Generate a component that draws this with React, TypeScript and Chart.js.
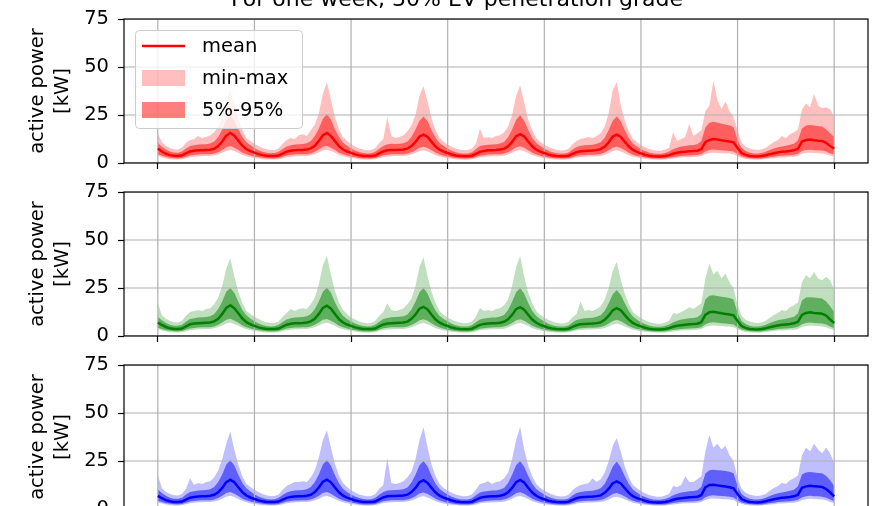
import React, { useEffect, useRef } from 'react';
import { Chart, registerables } from 'chart.js';

Chart.register(...registerables);

// ---------------- text ----------------
const TITLE = 'For one week, 30% EV penetration grade';
const Y_LABEL = ['active power', '[kW]'];
const LEGEND_LABELS = ['mean', 'min-max', '5%-95%'];
const Y_TICKS = [0, 25, 50, 75];
const DAY_TICKS = [0, 1, 2, 3, 4, 5, 6, 7];
const HOURS_PER_DAY = 24;

// ---------------- panel 1 (red), hourly values, kW ----------------
const RED_MEAN = [
  7.5, 6.0, 4.8, 4.1, 3.8, 3.7, 4.0, 5.0, 6.0, 6.4, 6.6, 6.7, 6.8, 6.9, 7.4, 8.8, 11.2, 14.2, 15.6, 14.2, 11.6, 9.0, 7.2, 6.2,
  5.4, 4.6, 4.1, 3.8, 3.6, 3.6, 3.9, 4.9, 5.9, 6.4, 6.6, 6.8, 6.8, 7.0, 7.6, 9.0, 11.5, 14.5, 15.6, 14.0, 11.4, 8.8, 7.0, 6.0,
  5.3, 4.5, 4.0, 3.7, 3.6, 3.6, 3.9, 5.0, 6.0, 6.6, 6.8, 6.8, 6.9, 7.0, 7.5, 8.8, 11.0, 13.8, 14.8, 13.6, 11.0, 8.6, 6.9, 5.9,
  5.2, 4.4, 3.9, 3.7, 3.5, 3.5, 3.8, 4.8, 5.8, 6.3, 6.6, 6.7, 6.8, 7.0, 7.4, 8.7, 11.0, 14.0, 15.0, 13.8, 11.2, 8.7, 6.9, 5.9,
  5.2, 4.4, 3.9, 3.6, 3.5, 3.5, 3.8, 4.7, 5.6, 6.1, 6.3, 6.4, 6.5, 6.7, 7.2, 8.5, 10.8, 13.8, 14.8, 13.6, 11.0, 8.6, 6.8, 5.8,
  5.0, 4.3, 3.8, 3.5, 3.4, 3.4, 3.6, 4.1, 4.8, 5.3, 5.7, 5.9, 6.1, 6.2, 6.4, 7.2, 10.8, 12.0, 12.5, 12.2, 11.8, 11.5, 11.2, 10.8,
  7.8, 5.2, 4.2, 3.7, 3.5, 3.4, 3.6, 4.0, 4.6, 5.1, 5.5, 5.8, 6.0, 6.3, 6.6, 7.4, 11.2, 12.0, 12.2, 11.8, 11.6, 11.5, 10.5, 8.8,
  7.5,
];
const RED_P95 = [
  10.5, 8.5, 7.0, 6.0, 5.5, 5.4, 6.0, 7.5, 8.8, 9.3, 9.6, 9.8, 9.8, 10.2, 11.2, 13.5, 17.5, 22.5, 24.5, 22.0, 17.5, 13.5, 10.8, 9.2,
  7.8, 6.6, 5.8, 5.3, 5.1, 5.2, 5.8, 7.3, 8.6, 9.2, 9.6, 9.8, 9.9, 10.3, 11.4, 14.0, 18.0, 23.0, 25.5, 22.5, 17.5, 13.5, 10.5, 9.0,
  7.6, 6.5, 5.7, 5.2, 5.0, 5.1, 5.8, 7.4, 8.8, 9.8, 10.0, 9.9, 10.0, 10.3, 11.2, 13.5, 17.5, 22.0, 24.2, 21.8, 17.0, 13.2, 10.4, 8.8,
  7.5, 6.4, 5.6, 5.1, 4.9, 5.0, 5.6, 7.2, 8.8, 9.2, 9.5, 9.7, 9.8, 10.2, 11.0, 13.4, 17.5, 22.5, 25.0, 22.0, 17.2, 13.2, 10.4, 8.8,
  7.5, 6.4, 5.6, 5.1, 4.9, 5.0, 5.5, 7.0, 8.3, 8.9, 9.2, 9.4, 9.5, 10.0, 10.8, 13.2, 17.2, 22.0, 24.3, 21.6, 17.0, 13.0, 10.2, 8.6,
  7.2, 6.2, 5.5, 5.0, 4.8, 4.8, 5.2, 6.0, 7.2, 8.0, 8.6, 8.9, 9.2, 9.4, 9.8, 11.5, 18.5, 21.0, 21.5, 21.0, 20.5, 20.0, 19.5, 18.8,
  12.0, 7.8, 6.2, 5.4, 5.0, 4.9, 5.2, 5.9, 6.8, 7.6, 8.2, 8.6, 9.0, 9.5, 10.0, 11.8, 18.0, 19.5, 19.8, 19.5, 19.2, 19.0, 17.5, 15.5,
  13.5,
];
const RED_P5 = [
  4.5, 3.8, 3.1, 2.7, 2.5, 2.4, 2.6, 3.2, 3.9, 4.2, 4.4, 4.5, 4.5, 4.6, 4.9, 5.6, 6.8, 8.2, 8.8, 8.0, 6.8, 5.4, 4.5, 3.9,
  3.4, 3.0, 2.7, 2.5, 2.4, 2.4, 2.6, 3.2, 3.9, 4.2, 4.4, 4.5, 4.5, 4.6, 5.0, 5.8, 7.0, 8.4, 8.9, 8.0, 6.8, 5.4, 4.5, 3.9,
  3.4, 3.0, 2.6, 2.4, 2.3, 2.4, 2.6, 3.3, 4.0, 4.3, 4.5, 4.5, 4.6, 4.6, 4.9, 5.6, 6.7, 8.0, 8.5, 7.8, 6.6, 5.3, 4.4, 3.8,
  3.3, 2.9, 2.6, 2.4, 2.3, 2.3, 2.5, 3.1, 3.8, 4.1, 4.4, 4.4, 4.5, 4.6, 4.9, 5.6, 6.8, 8.2, 8.7, 7.9, 6.7, 5.3, 4.4, 3.8,
  3.3, 2.9, 2.6, 2.4, 2.3, 2.3, 2.5, 3.0, 3.6, 4.0, 4.2, 4.3, 4.3, 4.4, 4.7, 5.5, 6.6, 8.0, 8.5, 7.8, 6.6, 5.3, 4.3, 3.7,
  3.3, 2.9, 2.6, 2.4, 2.3, 2.3, 2.4, 2.7, 3.1, 3.4, 3.7, 3.8, 3.9, 4.0, 4.2, 4.6, 6.0, 6.8, 7.0, 6.8, 6.6, 6.5, 6.3, 6.0,
  4.6, 3.4, 2.8, 2.5, 2.3, 2.3, 2.4, 2.7, 3.0, 3.3, 3.6, 3.8, 3.9, 4.1, 4.3, 4.8, 6.2, 6.8, 6.9, 6.7, 6.6, 6.5, 6.0, 5.0,
  4.5,
];
const RED_MIN = [
  3.6, 3.0, 2.4, 2.0, 1.8, 1.8, 2.0, 2.5, 3.0, 3.3, 3.5, 3.5, 3.6, 3.6, 3.9, 4.4, 5.3, 6.3, 6.8, 6.2, 5.2, 4.2, 3.5, 3.0,
  2.6, 2.3, 2.0, 1.8, 1.8, 1.8, 2.0, 2.5, 3.0, 3.3, 3.5, 3.5, 3.6, 3.7, 4.0, 4.6, 5.5, 6.5, 6.9, 6.2, 5.3, 4.2, 3.5, 3.0,
  2.6, 2.3, 2.0, 1.8, 1.7, 1.8, 2.0, 2.6, 3.1, 3.4, 3.5, 3.6, 3.6, 3.6, 3.9, 4.4, 5.2, 6.2, 6.6, 6.0, 5.1, 4.1, 3.4, 2.9,
  2.5, 2.2, 2.0, 1.8, 1.7, 1.7, 1.9, 2.4, 3.0, 3.2, 3.4, 3.5, 3.5, 3.6, 3.8, 4.4, 5.3, 6.4, 6.8, 6.1, 5.2, 4.1, 3.4, 2.9,
  2.5, 2.2, 2.0, 1.8, 1.7, 1.7, 1.9, 2.3, 2.8, 3.1, 3.3, 3.4, 3.4, 3.5, 3.7, 4.3, 5.1, 6.2, 6.6, 6.0, 5.1, 4.1, 3.3, 2.8,
  2.5, 2.2, 2.0, 1.8, 1.7, 1.7, 1.8, 2.1, 2.4, 2.6, 2.9, 3.0, 3.0, 3.1, 3.3, 3.6, 4.6, 5.2, 5.4, 5.2, 5.1, 5.0, 4.9, 4.6,
  3.5, 2.6, 2.1, 1.9, 1.8, 1.7, 1.8, 2.1, 2.3, 2.5, 2.8, 2.9, 3.0, 3.2, 3.3, 3.7, 4.8, 5.2, 5.3, 5.2, 5.1, 5.0, 4.6, 3.8,
  3.4,
];
const RED_MAX = [
  15.5, 11.0, 9.0, 7.8, 7.2, 7.0, 8.0, 10.5, 12.0, 12.5, 14.0, 13.0, 13.5, 14.5, 16.0, 19.0, 24.0, 33.0, 38.0, 31.0, 23.0, 17.0, 13.0, 11.5,
  10.0, 8.8, 7.8, 7.2, 6.8, 6.8, 7.6, 10.0, 12.0, 13.0, 12.5, 14.5, 15.0, 14.0, 17.0, 20.0, 26.0, 36.0, 42.0, 33.0, 24.0, 17.5, 13.5, 11.5,
  9.8, 8.6, 7.6, 7.0, 6.6, 6.8, 7.8, 10.5, 12.5, 24.0, 14.0, 13.0, 13.5, 14.5, 16.5, 19.5, 25.0, 35.0, 40.0, 32.0, 23.0, 17.0, 13.0, 11.0,
  9.6, 8.4, 7.5, 7.0, 6.6, 6.8, 7.6, 10.0, 18.0, 13.0, 13.5, 13.0, 14.0, 14.5, 16.0, 19.0, 25.0, 35.0, 40.5, 31.5, 22.5, 17.0, 13.0, 11.0,
  9.6, 8.4, 7.5, 6.9, 6.5, 6.7, 7.4, 9.8, 11.5, 12.5, 13.0, 13.5, 13.0, 14.0, 15.5, 19.0, 26.0, 38.0, 42.0, 30.0, 22.0, 16.5, 12.5, 10.8,
  9.4, 8.2, 7.3, 6.8, 6.4, 6.4, 7.0, 8.0, 16.0, 11.5, 12.5, 13.5, 20.5, 14.0, 15.5, 17.0, 27.0, 30.0, 43.0, 33.0, 28.0, 32.0, 27.0, 24.0,
  17.0, 10.5, 8.5, 7.5, 7.0, 6.8, 7.2, 8.0, 9.5, 11.0, 12.0, 14.0, 13.0, 15.0, 16.0, 17.5, 28.0, 31.0, 29.0, 36.0, 30.0, 28.5, 29.0, 28.0,
  24.0,
];

// ---------------- panel 2 (green) ----------------
const GREEN_MEAN = [
  7.0, 5.8, 4.7, 4.0, 3.7, 3.6, 3.9, 5.0, 6.1, 6.5, 6.7, 6.8, 6.9, 7.0, 7.6, 9.0, 11.5, 14.6, 16.0, 14.5, 11.8, 9.1, 7.2, 6.1,
  5.3, 4.5, 4.0, 3.7, 3.6, 3.6, 3.9, 4.9, 5.9, 6.4, 6.6, 6.7, 6.8, 7.0, 7.6, 9.0, 11.5, 14.6, 15.8, 14.2, 11.5, 8.8, 7.0, 6.0,
  5.3, 4.5, 4.0, 3.7, 3.6, 3.6, 3.9, 5.0, 6.0, 6.5, 6.7, 6.8, 6.9, 7.0, 7.5, 8.9, 11.2, 14.2, 15.2, 13.8, 11.1, 8.6, 6.9, 5.9,
  5.2, 4.4, 3.9, 3.6, 3.5, 3.5, 3.8, 4.8, 5.8, 6.3, 6.5, 6.6, 6.7, 6.9, 7.4, 8.7, 11.0, 14.0, 15.0, 13.7, 11.1, 8.6, 6.9, 5.8,
  5.1, 4.3, 3.9, 3.6, 3.5, 3.5, 3.8, 4.7, 5.6, 6.1, 6.3, 6.4, 6.5, 6.7, 7.1, 8.4, 10.6, 13.4, 14.5, 13.4, 10.9, 8.5, 6.8, 5.8,
  5.0, 4.3, 3.8, 3.5, 3.4, 3.4, 3.6, 4.1, 4.8, 5.3, 5.6, 5.9, 6.1, 6.2, 6.4, 7.2, 11.0, 12.4, 12.6, 12.2, 11.8, 11.5, 11.2, 10.8,
  7.8, 5.2, 4.2, 3.7, 3.5, 3.4, 3.6, 4.0, 4.6, 5.1, 5.5, 5.8, 6.0, 6.2, 6.6, 7.4, 11.0, 12.0, 12.3, 12.0, 11.8, 11.6, 10.6, 8.6,
  6.8,
];
const GREEN_P95 = [
  10.0, 8.2, 6.8, 5.9, 5.4, 5.3, 5.9, 7.5, 8.8, 9.3, 9.6, 9.8, 9.9, 10.3, 11.4, 14.0, 18.0, 23.0, 25.0, 22.5, 17.8, 13.6, 10.8, 9.1,
  7.7, 6.5, 5.7, 5.2, 5.0, 5.1, 5.8, 7.3, 8.6, 9.2, 9.6, 9.8, 9.9, 10.3, 11.4, 14.0, 18.0, 23.0, 25.2, 22.5, 17.6, 13.4, 10.5, 8.9,
  7.6, 6.5, 5.7, 5.2, 5.0, 5.1, 5.8, 7.4, 8.8, 9.4, 9.8, 9.9, 10.0, 10.3, 11.2, 13.8, 17.8, 22.8, 25.0, 22.2, 17.2, 13.2, 10.4, 8.8,
  7.5, 6.4, 5.6, 5.1, 4.9, 5.0, 5.6, 7.2, 8.6, 9.1, 9.4, 9.6, 9.7, 10.1, 11.0, 13.6, 17.8, 22.8, 25.0, 22.0, 17.2, 13.2, 10.4, 8.8,
  7.5, 6.4, 5.6, 5.1, 4.9, 5.0, 5.5, 7.0, 8.3, 8.9, 9.2, 9.4, 9.5, 10.0, 10.8, 13.2, 17.0, 21.8, 24.0, 21.4, 17.0, 13.0, 10.2, 8.6,
  7.2, 6.2, 5.5, 5.0, 4.8, 4.8, 5.2, 6.0, 7.2, 8.0, 8.6, 8.9, 9.2, 9.4, 9.8, 11.5, 19.0, 21.0, 21.2, 20.8, 20.5, 20.2, 19.8, 19.0,
  12.0, 7.8, 6.2, 5.4, 5.0, 4.9, 5.2, 5.9, 6.8, 7.6, 8.2, 8.6, 9.0, 9.5, 10.0, 11.8, 18.5, 20.0, 20.2, 20.0, 19.8, 19.5, 18.0, 15.5,
  12.5,
];
const GREEN_P5 = [
  4.3, 3.7, 3.0, 2.7, 2.5, 2.4, 2.6, 3.2, 3.9, 4.2, 4.4, 4.5, 4.5, 4.6, 5.0, 5.8, 7.0, 8.5, 9.0, 8.1, 6.9, 5.5, 4.5, 3.9,
  3.4, 3.0, 2.7, 2.5, 2.4, 2.4, 2.6, 3.2, 3.9, 4.2, 4.4, 4.4, 4.5, 4.6, 5.0, 5.8, 7.0, 8.4, 8.9, 8.0, 6.8, 5.4, 4.5, 3.9,
  3.4, 3.0, 2.6, 2.4, 2.3, 2.4, 2.6, 3.3, 4.0, 4.3, 4.5, 4.5, 4.6, 4.6, 4.9, 5.7, 6.8, 8.2, 8.7, 7.9, 6.7, 5.3, 4.4, 3.8,
  3.3, 2.9, 2.6, 2.4, 2.3, 2.3, 2.5, 3.1, 3.8, 4.1, 4.3, 4.4, 4.5, 4.6, 4.9, 5.6, 6.8, 8.2, 8.7, 7.9, 6.7, 5.3, 4.4, 3.8,
  3.3, 2.9, 2.6, 2.4, 2.3, 2.3, 2.5, 3.0, 3.6, 4.0, 4.2, 4.3, 4.3, 4.4, 4.7, 5.4, 6.5, 7.8, 8.4, 7.7, 6.5, 5.2, 4.3, 3.7,
  3.3, 2.9, 2.6, 2.4, 2.3, 2.3, 2.4, 2.7, 3.1, 3.4, 3.7, 3.8, 3.9, 4.0, 4.2, 4.6, 6.1, 6.9, 7.1, 6.9, 6.7, 6.5, 6.3, 6.0,
  4.6, 3.4, 2.8, 2.5, 2.3, 2.3, 2.4, 2.7, 3.0, 3.3, 3.6, 3.8, 3.9, 4.1, 4.3, 4.8, 6.1, 6.8, 7.0, 6.8, 6.7, 6.5, 6.0, 4.9,
  4.1,
];
const GREEN_MIN = [
  3.5, 2.9, 2.4, 2.0, 1.8, 1.8, 2.0, 2.5, 3.0, 3.3, 3.5, 3.5, 3.6, 3.6, 4.0, 4.5, 5.5, 6.5, 7.0, 6.3, 5.3, 4.3, 3.5, 3.0,
  2.6, 2.3, 2.0, 1.8, 1.8, 1.8, 2.0, 2.5, 3.0, 3.3, 3.5, 3.5, 3.6, 3.7, 4.0, 4.6, 5.5, 6.5, 6.9, 6.2, 5.3, 4.2, 3.5, 3.0,
  2.6, 2.3, 2.0, 1.8, 1.7, 1.8, 2.0, 2.6, 3.1, 3.4, 3.5, 3.6, 3.6, 3.6, 3.9, 4.5, 5.3, 6.4, 6.8, 6.1, 5.2, 4.1, 3.4, 2.9,
  2.5, 2.2, 2.0, 1.8, 1.7, 1.7, 1.9, 2.4, 3.0, 3.2, 3.4, 3.5, 3.5, 3.6, 3.8, 4.4, 5.3, 6.4, 6.8, 6.1, 5.2, 4.1, 3.4, 2.9,
  2.5, 2.2, 2.0, 1.8, 1.7, 1.7, 1.9, 2.3, 2.8, 3.1, 3.3, 3.4, 3.4, 3.5, 3.7, 4.2, 5.0, 6.0, 6.5, 5.9, 5.0, 4.0, 3.3, 2.8,
  2.5, 2.2, 2.0, 1.8, 1.7, 1.7, 1.8, 2.1, 2.4, 2.6, 2.9, 3.0, 3.0, 3.1, 3.3, 3.6, 4.7, 5.3, 5.5, 5.3, 5.2, 5.0, 4.9, 4.6,
  3.5, 2.6, 2.1, 1.9, 1.8, 1.7, 1.8, 2.1, 2.3, 2.5, 2.8, 2.9, 3.0, 3.2, 3.3, 3.7, 4.7, 5.2, 5.4, 5.3, 5.2, 5.0, 4.6, 3.7,
  3.1,
];
const GREEN_MAX = [
  17.0, 11.0, 9.0, 7.8, 7.2, 7.0, 8.0, 10.5, 12.5, 13.0, 13.5, 13.0, 14.0, 14.5, 16.5, 20.0, 26.0, 35.0, 40.5, 31.0, 23.0, 17.0, 13.0, 11.5,
  10.0, 8.8, 7.8, 7.2, 6.8, 6.8, 7.6, 10.0, 12.0, 14.0, 13.0, 14.0, 14.5, 14.0, 16.5, 20.0, 27.0, 37.0, 41.7, 32.0, 23.5, 17.5, 13.5, 11.5,
  9.8, 8.6, 7.6, 7.0, 6.6, 6.8, 7.8, 10.5, 12.5, 17.0, 13.5, 13.0, 13.5, 14.5, 16.5, 19.5, 26.0, 36.0, 41.0, 31.0, 23.0, 17.0, 13.0, 11.0,
  9.6, 8.4, 7.5, 7.0, 6.6, 6.8, 7.6, 10.0, 14.6, 13.0, 13.5, 13.0, 14.0, 14.5, 16.0, 19.0, 26.0, 36.0, 41.7, 31.0, 22.5, 17.0, 13.0, 11.0,
  9.6, 8.4, 7.5, 6.9, 6.5, 6.7, 7.4, 9.8, 11.5, 18.0, 13.0, 13.5, 13.0, 14.0, 15.5, 19.0, 25.0, 34.0, 38.7, 29.0, 22.0, 16.5, 12.5, 10.8,
  9.4, 8.2, 7.3, 6.8, 6.4, 6.4, 7.0, 8.0, 12.0, 11.5, 12.5, 13.5, 15.0, 14.0, 15.5, 17.0, 30.0, 37.8, 32.0, 34.0, 30.0, 32.6, 28.0, 25.0,
  16.0, 10.5, 8.5, 7.5, 7.0, 6.8, 7.2, 8.0, 9.5, 11.0, 12.0, 13.5, 13.0, 15.0, 16.0, 17.5, 28.0, 31.8, 30.0, 33.5, 30.0, 29.0, 30.9, 29.0,
  24.0,
];

// ---------------- panel 3 (blue) ----------------
const BLUE_MEAN = [
  6.8, 5.6, 4.6, 4.0, 3.7, 3.6, 3.9, 4.9, 5.9, 6.3, 6.5, 6.6, 6.7, 6.9, 7.4, 8.7, 11.0, 14.0, 15.2, 13.9, 11.3, 8.8, 7.0, 6.0,
  5.2, 4.5, 4.0, 3.7, 3.6, 3.6, 3.9, 4.9, 5.8, 6.3, 6.5, 6.6, 6.7, 6.9, 7.4, 8.8, 11.2, 14.2, 15.3, 13.9, 11.2, 8.7, 6.9, 5.9,
  5.2, 4.4, 4.0, 3.7, 3.6, 3.6, 3.9, 5.0, 6.0, 6.6, 6.8, 6.8, 6.9, 7.0, 7.5, 8.8, 11.0, 13.9, 15.0, 13.6, 11.0, 8.6, 6.9, 5.9,
  5.2, 4.4, 3.9, 3.6, 3.5, 3.5, 3.8, 4.8, 5.8, 6.3, 6.5, 6.6, 6.7, 6.9, 7.4, 8.7, 11.0, 14.0, 15.1, 13.8, 11.1, 8.6, 6.9, 5.8,
  5.1, 4.3, 3.9, 3.6, 3.5, 3.5, 3.8, 4.7, 5.6, 6.1, 6.3, 6.4, 6.5, 6.7, 7.1, 8.4, 10.6, 13.4, 14.4, 13.3, 10.8, 8.4, 6.7, 5.7,
  5.0, 4.3, 3.8, 3.5, 3.4, 3.4, 3.6, 4.1, 4.8, 5.3, 5.6, 5.9, 6.1, 6.2, 6.4, 7.2, 11.2, 12.5, 12.6, 12.3, 12.0, 11.7, 11.3, 10.8,
  7.8, 5.2, 4.2, 3.7, 3.5, 3.4, 3.6, 4.0, 4.6, 5.1, 5.5, 5.8, 6.0, 6.2, 6.6, 7.4, 11.0, 11.8, 12.1, 11.9, 11.7, 11.5, 10.4, 8.6,
  6.6,
];
const BLUE_P95 = [
  10.2, 8.3, 6.9, 5.9, 5.4, 5.3, 5.9, 7.5, 8.8, 9.3, 9.6, 9.8, 9.9, 10.3, 11.4, 14.0, 18.0, 23.2, 25.5, 22.6, 17.8, 13.6, 10.8, 9.1,
  7.7, 6.5, 5.7, 5.2, 5.0, 5.1, 5.8, 7.3, 8.6, 9.2, 9.6, 9.8, 9.9, 10.3, 11.4, 14.0, 18.0, 23.2, 25.5, 22.5, 17.6, 13.4, 10.5, 8.9,
  7.6, 6.5, 5.7, 5.2, 5.0, 5.1, 5.8, 7.4, 8.8, 9.6, 9.8, 9.9, 10.0, 10.3, 11.2, 13.8, 17.8, 22.8, 25.0, 22.2, 17.2, 13.2, 10.4, 8.8,
  7.5, 6.4, 5.6, 5.1, 4.9, 5.0, 5.6, 7.2, 8.6, 9.1, 9.4, 9.6, 9.7, 10.1, 11.0, 13.6, 17.8, 22.8, 25.0, 22.0, 17.2, 13.2, 10.4, 8.8,
  7.5, 6.4, 5.6, 5.1, 4.9, 5.0, 5.5, 7.0, 8.3, 8.9, 9.2, 9.4, 9.5, 10.0, 10.8, 13.2, 17.2, 22.2, 24.7, 21.6, 17.0, 13.0, 10.2, 8.6,
  7.2, 6.2, 5.5, 5.0, 4.8, 4.8, 5.2, 6.0, 7.2, 8.0, 8.6, 8.9, 9.2, 9.4, 9.8, 11.5, 18.5, 20.2, 20.5, 20.2, 20.0, 19.8, 19.4, 18.6,
  12.0, 7.8, 6.2, 5.4, 5.0, 4.9, 5.2, 5.9, 6.8, 7.6, 8.2, 8.6, 9.0, 9.5, 10.0, 11.8, 18.0, 19.0, 19.3, 19.0, 18.8, 18.6, 17.2, 15.0,
  12.0,
];
const BLUE_P5 = [
  4.2, 3.6, 3.0, 2.7, 2.5, 2.4, 2.6, 3.2, 3.9, 4.2, 4.4, 4.5, 4.5, 4.6, 4.9, 5.7, 6.9, 8.3, 8.9, 8.0, 6.8, 5.4, 4.5, 3.9,
  3.4, 3.0, 2.7, 2.5, 2.4, 2.4, 2.6, 3.2, 3.9, 4.2, 4.4, 4.4, 4.5, 4.6, 4.9, 5.7, 6.9, 8.3, 8.8, 7.9, 6.7, 5.4, 4.5, 3.9,
  3.4, 3.0, 2.6, 2.4, 2.3, 2.4, 2.6, 3.3, 4.0, 4.3, 4.5, 4.5, 4.6, 4.6, 4.9, 5.6, 6.7, 8.1, 8.6, 7.8, 6.6, 5.3, 4.4, 3.8,
  3.3, 2.9, 2.6, 2.4, 2.3, 2.3, 2.5, 3.1, 3.8, 4.1, 4.3, 4.4, 4.5, 4.6, 4.9, 5.6, 6.8, 8.2, 8.7, 7.9, 6.7, 5.3, 4.4, 3.8,
  3.3, 2.9, 2.6, 2.4, 2.3, 2.3, 2.5, 3.0, 3.6, 4.0, 4.2, 4.3, 4.3, 4.4, 4.7, 5.4, 6.5, 7.8, 8.3, 7.6, 6.5, 5.2, 4.3, 3.7,
  3.3, 2.9, 2.6, 2.4, 2.3, 2.3, 2.4, 2.7, 3.1, 3.4, 3.7, 3.8, 3.9, 4.0, 4.2, 4.6, 6.1, 6.9, 7.1, 6.9, 6.8, 6.6, 6.4, 6.0,
  4.6, 3.4, 2.8, 2.5, 2.3, 2.3, 2.4, 2.7, 3.0, 3.3, 3.6, 3.8, 3.9, 4.1, 4.3, 4.8, 6.0, 6.7, 6.9, 6.7, 6.6, 6.4, 5.9, 4.9,
  4.0,
];
const BLUE_MIN = [
  3.4, 2.9, 2.4, 2.0, 1.8, 1.8, 2.0, 2.5, 3.0, 3.3, 3.5, 3.5, 3.6, 3.6, 3.9, 4.4, 5.4, 6.4, 6.9, 6.2, 5.2, 4.2, 3.5, 3.0,
  2.6, 2.3, 2.0, 1.8, 1.8, 1.8, 2.0, 2.5, 3.0, 3.3, 3.5, 3.5, 3.6, 3.7, 3.9, 4.5, 5.4, 6.4, 6.8, 6.1, 5.2, 4.2, 3.5, 3.0,
  2.6, 2.3, 2.0, 1.8, 1.7, 1.8, 2.0, 2.6, 3.1, 3.4, 3.5, 3.6, 3.6, 3.6, 3.9, 4.4, 5.2, 6.3, 6.7, 6.0, 5.1, 4.1, 3.4, 2.9,
  2.5, 2.2, 2.0, 1.8, 1.7, 1.7, 1.9, 2.4, 3.0, 3.2, 3.4, 3.5, 3.5, 3.6, 3.8, 4.4, 5.3, 6.4, 6.8, 6.1, 5.2, 4.1, 3.4, 2.9,
  2.5, 2.2, 2.0, 1.8, 1.7, 1.7, 1.9, 2.3, 2.8, 3.1, 3.3, 3.4, 3.4, 3.5, 3.7, 4.2, 5.0, 6.0, 6.4, 5.8, 5.0, 4.0, 3.3, 2.8,
  2.5, 2.2, 2.0, 1.8, 1.7, 1.7, 1.8, 2.1, 2.4, 2.6, 2.9, 3.0, 3.0, 3.1, 3.3, 3.6, 4.7, 5.3, 5.5, 5.3, 5.2, 5.1, 4.9, 4.6,
  3.5, 2.6, 2.1, 1.9, 1.8, 1.7, 1.8, 2.1, 2.3, 2.5, 2.8, 2.9, 3.0, 3.2, 3.3, 3.7, 4.6, 5.1, 5.3, 5.2, 5.1, 4.9, 4.5, 3.7,
  3.0,
];
const BLUE_MAX = [
  17.7, 11.0, 9.0, 7.8, 7.2, 7.0, 8.0, 10.5, 16.0, 12.5, 13.5, 13.0, 14.0, 14.5, 16.5, 20.0, 26.0, 34.0, 40.3, 31.0, 23.0, 17.0, 13.0, 11.5,
  10.0, 8.8, 7.8, 7.2, 6.8, 6.8, 7.6, 10.0, 12.0, 13.0, 14.0, 14.0, 14.5, 14.0, 16.5, 20.0, 27.0, 36.0, 41.0, 32.0, 23.5, 17.5, 13.5, 11.5,
  9.8, 8.6, 7.6, 7.0, 6.6, 6.8, 7.8, 10.5, 12.5, 26.6, 13.5, 13.0, 13.5, 14.5, 16.5, 19.5, 26.0, 36.0, 42.6, 32.0, 23.0, 17.0, 13.0, 11.0,
  9.6, 8.4, 7.5, 7.0, 6.6, 6.8, 7.6, 10.0, 13.0, 13.5, 14.5, 13.0, 14.0, 14.5, 16.0, 19.0, 26.0, 36.0, 42.9, 31.0, 22.5, 17.0, 13.0, 11.0,
  9.6, 8.4, 7.5, 6.9, 6.5, 6.7, 7.4, 9.8, 11.5, 12.5, 13.0, 13.5, 16.0, 14.0, 15.5, 19.0, 25.0, 33.0, 37.0, 30.0, 22.0, 16.5, 12.5, 10.8,
  9.4, 8.2, 7.3, 6.8, 6.4, 6.4, 7.0, 8.0, 12.0, 11.5, 12.5, 17.0, 14.0, 14.0, 15.5, 17.0, 30.0, 38.5, 32.0, 34.0, 31.0, 33.0, 28.0, 25.0,
  16.0, 10.5, 8.5, 7.5, 7.0, 6.8, 7.2, 8.0, 9.5, 11.0, 12.0, 13.5, 13.0, 15.0, 16.0, 17.5, 28.0, 32.0, 30.0, 34.0, 31.0, 29.0, 32.0, 29.0,
  24.0,
];

// ---------------- layout / style ----------------
const W = 872;
const H = 506;
const FONT = 'DejaVu Sans';
const TICK_SIZE = 19.5;
const PLOT_LEFT = 124;
const PLOT_RIGHT = 868;
const PLOT_H = 144;
const GRID_COLOR = '#b0b0b0';

type Spec = {
  key: string;
  plotTop: number;
  canvasTop: number;
  canvasH: number;
  rgb: number[];
  mean: number[];
  p5: number[];
  p95: number[];
  min: number[];
  max: number[];
  legend: boolean;
  title: boolean;
};

const PANELS: Spec[] = [
  { key: 'red', plotTop: 19, canvasTop: -12, canvasH: 199, rgb: [255, 0, 0], mean: RED_MEAN, p5: RED_P5, p95: RED_P95, min: RED_MIN, max: RED_MAX, legend: true, title: true },
  { key: 'green', plotTop: 192, canvasTop: 168, canvasH: 192, rgb: [0, 128, 0], mean: GREEN_MEAN, p5: GREEN_P5, p95: GREEN_P95, min: GREEN_MIN, max: GREEN_MAX, legend: false, title: false },
  { key: 'blue', plotTop: 365, canvasTop: 341, canvasH: 192, rgb: [0, 0, 255], mean: BLUE_MEAN, p5: BLUE_P5, p95: BLUE_P95, min: BLUE_MIN, max: BLUE_MAX, legend: false, title: false },
];

const rgba = (rgb: number[], a: number) => `rgba(${rgb[0]},${rgb[1]},${rgb[2]},${a})`;

const decorPlugin = {
  id: 'decor',
  beforeDatasetsDraw(chart: any) {
    // grid above the filled bands, below the mean line (matplotlib z-order)
    const { ctx, chartArea: ca, scales } = chart;
    ctx.save();
    ctx.beginPath();
    ctx.rect(ca.left, ca.top, ca.right - ca.left, ca.bottom - ca.top);
    ctx.clip();
    ctx.strokeStyle = GRID_COLOR;
    ctx.lineWidth = 1.2;
    ctx.beginPath();
    DAY_TICKS.forEach((v) => {
      const px = scales.x.getPixelForValue(v);
      ctx.moveTo(px, ca.top);
      ctx.lineTo(px, ca.bottom);
    });
    Y_TICKS.forEach((v) => {
      const py = scales.y.getPixelForValue(v);
      ctx.moveTo(ca.left, py);
      ctx.lineTo(ca.right, py);
    });
    ctx.stroke();
    ctx.restore();
  },
  afterDatasetsDraw(chart: any, _args: any, opts: any) {
    const { ctx, chartArea: ca } = chart;
    ctx.save();
    // spines
    ctx.strokeStyle = '#000';
    ctx.lineWidth = 1.2;
    ctx.strokeRect(ca.left, ca.top, ca.right - ca.left, ca.bottom - ca.top);

    if (opts.legend) {
      const ds = chart.data.datasets;
      const find = (l: string) => ds.find((d: any) => d.label === l);
      const x0 = ca.left + 11;
      const y0 = ca.top + 11;
      const w = 167;
      const h = 98;
      ctx.beginPath();
      ctx.roundRect(x0 + 0.5, y0 + 0.5, w, h, 4);
      ctx.fillStyle = 'rgba(255,255,255,0.8)';
      ctx.fill();
      ctx.strokeStyle = '#cccccc';
      ctx.lineWidth = 1;
      ctx.stroke();
      ctx.font = `${TICK_SIZE}px "${FONT}"`;
      ctx.textBaseline = 'middle';
      ctx.textAlign = 'left';
      LEGEND_LABELS.forEach((label, i) => {
        const d: any = find(label);
        const cy = y0 + 16 + 32 * i;
        if (label === 'mean') {
          ctx.strokeStyle = d.borderColor;
          ctx.lineWidth = 2.5;
          ctx.beginPath();
          ctx.moveTo(x0 + 7, cy);
          ctx.lineTo(x0 + 50, cy);
          ctx.stroke();
        } else {
          ctx.fillStyle = d.backgroundColor;
          ctx.fillRect(x0 + 7, cy - 8, 43, 16);
        }
        ctx.fillStyle = '#000';
        ctx.fillText(label, x0 + 67, cy + 1);
      });
    }

    if (opts.title) {
      ctx.font = `22px "${FONT}"`;
      ctx.fillStyle = '#000';
      ctx.textAlign = 'center';
      ctx.textBaseline = 'alphabetic';
      ctx.fillText(opts.title, 457, 6 - opts.canvasTop);
    }
    ctx.restore();
  },
};

function Panel({ spec }: { spec: Spec }) {
  const ref = useRef<HTMLCanvasElement | null>(null);
  useEffect(() => {
    const canvas = ref.current;
    if (!canvas) return;
    const padTop = spec.plotTop - spec.canvasTop;
    const xAxisH = spec.canvasH - padTop - PLOT_H;
    const pts = (arr: number[]) => arr.map((v, i) => ({ x: i / HOURS_PER_DAY, y: v }));
    const hidden = 'rgba(0,0,0,0)';
    const chart = new Chart(canvas, {
      type: 'line',
      data: {
        datasets: [
          { label: 'mean', data: pts(spec.mean), borderColor: rgba(spec.rgb, 1), borderWidth: 2.5, pointRadius: 0, fill: false },
          { label: '5%-95%', data: pts(spec.p95), borderColor: hidden, borderWidth: 0, backgroundColor: rgba(spec.rgb, 0.5), pointRadius: 0, fill: '+1' },
          { label: '5%', data: pts(spec.p5), borderColor: hidden, borderWidth: 0, pointRadius: 0, fill: false },
          { label: 'min-max', data: pts(spec.max), borderColor: hidden, borderWidth: 0, backgroundColor: rgba(spec.rgb, 0.25), pointRadius: 0, fill: '+1' },
          { label: 'min', data: pts(spec.min), borderColor: hidden, borderWidth: 0, pointRadius: 0, fill: false },
        ],
      } as any,
      options: {
        animation: false,
        responsive: false,
        maintainAspectRatio: false,
        events: [],
        layout: { padding: { top: padTop, right: W - PLOT_RIGHT, left: 0, bottom: 0 } },
        plugins: {
          legend: { display: false },
          tooltip: { enabled: false },
          title: { display: false },
          filler: { drawTime: 'beforeDatasetsDraw' },
          decor: { legend: spec.legend, title: spec.title ? TITLE : null, canvasTop: spec.canvasTop },
        } as any,
        scales: {
          x: {
            type: 'linear',
            min: -0.35,
            max: 7.35,
            afterBuildTicks: (s: any) => { s.ticks = DAY_TICKS.map((v) => ({ value: v })); },
            afterFit: (s: any) => { s.height = xAxisH; },
            ticks: { display: false },
            grid: { color: 'rgba(0,0,0,0)', lineWidth: 1, drawTicks: true, tickLength: 6, tickColor: '#000', tickWidth: 1.2 },
            border: { display: false },
          },
          y: {
            type: 'linear',
            min: 0,
            max: 75,
            afterBuildTicks: (s: any) => { s.ticks = Y_TICKS.map((v) => ({ value: v })); },
            afterFit: (s: any) => { s.width = PLOT_LEFT; },
            ticks: { color: '#000', padding: 9, font: { family: FONT, size: TICK_SIZE } },
            grid: { color: 'rgba(0,0,0,0)', lineWidth: 1, drawTicks: true, tickLength: 6, tickColor: '#000', tickWidth: 1.2 },
            border: { display: false },
            title: {
              display: true,
              text: Y_LABEL,
              color: '#000',
              font: { family: FONT, size: TICK_SIZE, lineHeight: 1.28 },
              padding: { top: 25.5, bottom: 0 },
            },
          },
        },
      } as any,
      plugins: [decorPlugin],
    });
    return () => chart.destroy();
  }, [spec]);
  return (
    <canvas
      ref={ref}
      width={W}
      height={spec.canvasH}
      style={{ position: 'absolute', left: 0, top: spec.canvasTop, width: W, height: spec.canvasH, display: 'block' }}
    />
  );
}

export default function App() {
  return (
    <div style={{ position: 'absolute', left: 0, top: 0, width: W, height: H, overflow: 'hidden', background: '#fff' }}>
      {PANELS.map((p) => (
        <Panel key={p.key} spec={p} />
      ))}
    </div>
  );
}
